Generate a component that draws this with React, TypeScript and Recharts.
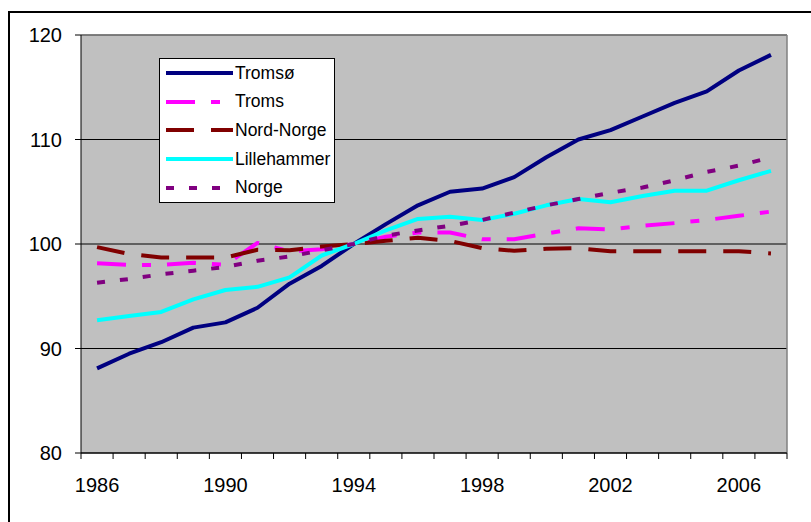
import React from "react";
import {
  CartesianGrid,
  Legend,
  Line,
  LineChart,
  ReferenceLine,
  XAxis,
  YAxis,
} from "recharts";

const years = [
  1986, 1987, 1988, 1989, 1990, 1991, 1992, 1993, 1994, 1995, 1996, 1997, 1998, 1999, 2000,
  2001, 2002, 2003, 2004, 2005, 2006, 2007,
];
const tromso = [
  88.1, 89.5, 90.6, 92.0, 92.5, 93.9, 96.2, 97.9, 100, 101.9, 103.7, 105.0, 105.3, 106.4, 108.3,
  110.0, 110.9, 112.2, 113.5, 114.6, 116.6, 118.1,
];
const troms = [
  98.15, 98.0, 98.0, 98.2, 98.0, 100.1, 99.3, 99.5, 100, 100.7, 101.1, 101.1, 100.45, 100.45,
  101.0, 101.5, 101.4, 101.75, 102.0, 102.3, 102.7, 103.1,
];
const nordNorge = [
  99.7, 99.05, 98.7, 98.7, 98.7, 99.45, 99.4, 99.75, 100, 100.3, 100.6, 100.3, 99.6, 99.35,
  99.55, 99.6, 99.3, 99.3, 99.3, 99.3, 99.3, 99.1,
];
const lillehammer = [
  92.7, 93.1, 93.5, 94.7, 95.6, 95.9, 96.8, 98.9, 100, 101.3, 102.4, 102.6, 102.3, 102.9, 103.7,
  104.3, 104.0, 104.6, 105.1, 105.1, 106.1, 107.0,
];
const norge = [
  96.3, 96.65, 97.1, 97.45, 97.8, 98.4, 98.8, 99.4, 100, 100.8, 101.3, 101.75, 102.3, 103.0,
  103.7, 104.3, 104.9, 105.4, 106.1, 106.9, 107.5, 108.3,
];
const yearLabels = [1986, 1990, 1994, 1998, 2002, 2006];
const yTicks = [80, 90, 100, 110, 120];

const data = years.map((year, i) => ({
  year,
  tromso: tromso[i],
  troms: troms[i],
  nordNorge: nordNorge[i],
  lillehammer: lillehammer[i],
  norge: norge[i],
}));

const series = [
  { key: "tromso", name: "Tromsø", color: "#000080", dash: undefined },
  { key: "troms", name: "Troms", color: "#FF00FF", dash: "29 16 9 16" },
  { key: "nordNorge", name: "Nord-Norge", color: "#800000", dash: "28 17" },
  { key: "lillehammer", name: "Lillehammer", color: "#00FFFF", dash: undefined },
  { key: "norge", name: "Norge", color: "#800080", dash: "8 15" },
];

const FONT = "'Liberation Sans', Arial, sans-serif";

// tick marks sit between the years, labels sit on the years
const boundaries = years.map((y) => y - 0.5).concat(years[years.length - 1] + 0.5);
const xTicks = [...boundaries, ...yearLabels].sort((a, b) => a - b);

function XTick(props: any) {
  const { x, y, payload } = props;
  const v = payload.value;
  if (v % 1 !== 0) {
    return <line x1={x} x2={x} y1={y} y2={y + 6} stroke="#000" />;
  }
  return (
    <text x={x} y={y + 25} dy="0.71em" textAnchor="middle" fontSize={20} fill="#000" fontFamily={FONT}>
      {v}
    </text>
  );
}

function LegendBox() {
  return (
    <div
      style={{
        width: 174,
        height: 143,
        background: "#fff",
        border: "1px solid #000",
        fontFamily: FONT,
        fontSize: 17.5,
        color: "#000",
      }}
    >
      {series.map((s) => (
        <div key={s.key} style={{ height: 28.6, display: "flex", alignItems: "center" }}>
          <svg width={75} height={10} style={{ flex: "none" }}>
            <line
              x1={6}
              x2={73}
              y1={5}
              y2={5}
              stroke={s.color}
              strokeWidth={4}
              strokeDasharray={s.dash}
            />
          </svg>
          <span style={{ whiteSpace: "nowrap" }}>{s.name}</span>
        </div>
      ))}
    </div>
  );
}

export default function App() {
  return (
    <div
      style={{
        position: "absolute",
        left: 0,
        top: 0,
        width: 811,
        height: 522,
        overflow: "hidden",
        background: "#fff",
      }}
    >
      <div
        style={{
          position: "absolute",
          left: 8,
          top: 11,
          width: 830,
          height: 540,
          border: "2px solid #000",
        }}
      />
      <div style={{ position: "absolute", left: 0, top: 0 }}>
        <LineChart width={811} height={522} data={data} margin={{ top: 35, right: 24, bottom: 0, left: 0 }}>
          <CartesianGrid vertical={false} stroke="#000" fill="#C0C0C0" fillOpacity={1} />
          <XAxis
            type="number"
            dataKey="year"
            domain={[1985.5, 2007.5]}
            ticks={xTicks}
            interval={0}
            tickLine={false}
            tickSize={0}
            tickMargin={0}
            axisLine={{ stroke: "#000" }}
            tick={<XTick />}
            height={69}
          />
          <YAxis
            domain={[80, 120]}
            ticks={yTicks}
            interval={0}
            width={81}
            tickSize={6}
            tickMargin={13}
            tickLine={{ stroke: "#000" }}
            axisLine={{ stroke: "#000" }}
            tick={{ fill: "#000", fontSize: 20, fontFamily: FONT }}
          />
          <ReferenceLine x={2007.5} stroke="#808080" strokeWidth={1.5} />
          <ReferenceLine y={120} stroke="#808080" strokeWidth={1.5} />
          <Legend
            layout="vertical"
            align="center"
            verticalAlign="middle"
            content={() => <LegendBox />}
            wrapperStyle={{ left: 159, top: 58, width: 176, height: 145 }}
          />
          {series.map((s) => (
            <Line
              key={s.key}
              type="linear"
              dataKey={s.key}
              name={s.name}
              stroke={s.color}
              strokeWidth={4}
              strokeDasharray={s.dash}
              strokeLinejoin="round"
              dot={false}
              activeDot={false}
              isAnimationActive={false}
            />
          ))}
        </LineChart>
      </div>
    </div>
  );
}
